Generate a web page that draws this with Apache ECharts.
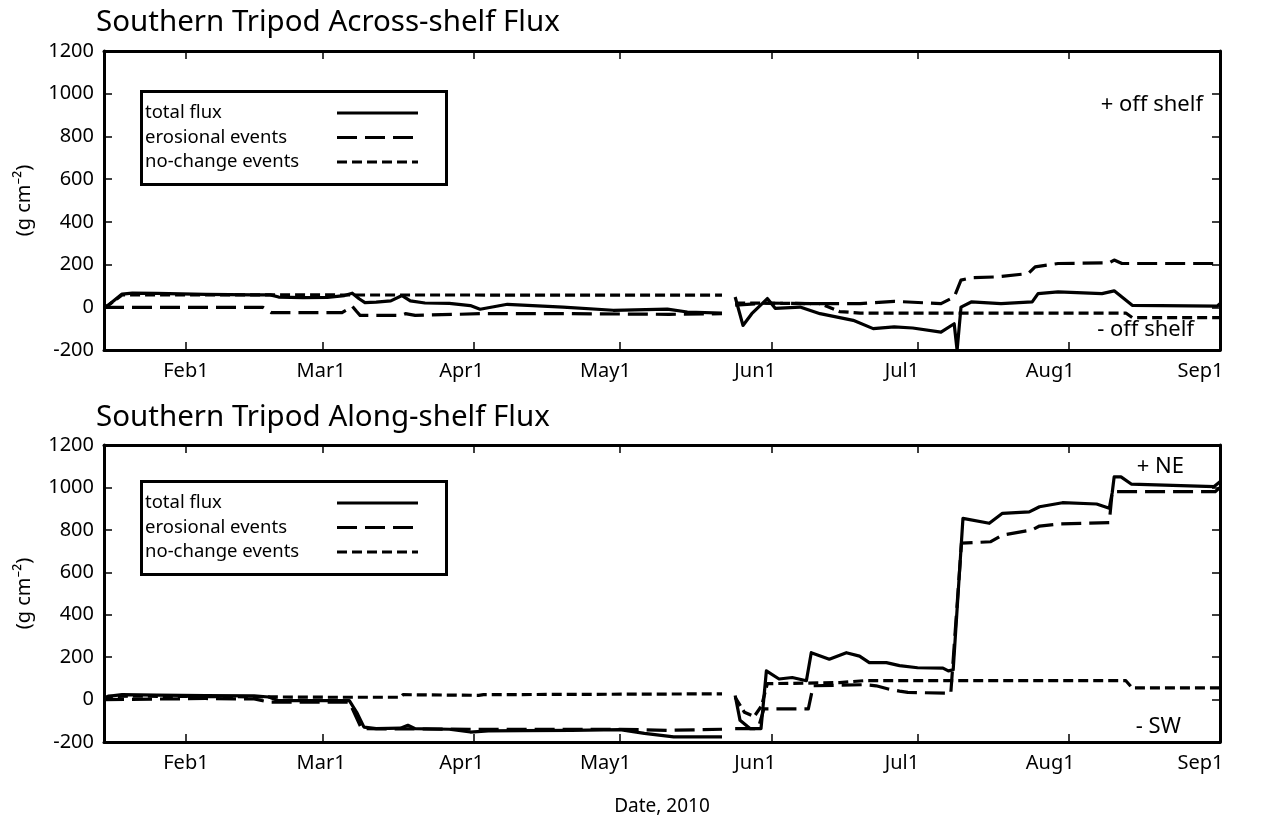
<!DOCTYPE html>
<html><head><meta charset="utf-8">
<script src="https://cdn.jsdelivr.net/npm/echarts@6/dist/echarts.min.js"></script>
<style>html,body{margin:0;padding:0;background:#fff}#c{width:1263px;height:820px}</style>
</head><body><div id="c"></div>
<script>
// x values are day-of-year 2010 (Jan 1 = 0)
const monthTicks = [31, 59, 90, 120, 151, 181, 212, 243];
const monthLabels = ['Feb1', 'Mar1', 'Apr1', 'May1', 'Jun1', 'Jul1', 'Aug1', 'Sep1'];
const labelAt = [31, 58.7, 87.5, 117, 147.7, 177.8, 208.2, 239];
const seriesNames = ['total flux', 'erosional events', 'no-change events'];
const panelTitles = ['Southern Tripod Across-shelf Flux', 'Southern Tripod Along-shelf Flux'];

const acrossTotal = [[14.2,0],[15,8],[17.9,62],[20,66],[25,65],[35,60],[45,58],[48.3,58],[50,48],[55,45],[60,46],[63.5,55],[65.1,66],[66.5,40],[67.7,22],[70,24],[73,30],[75.3,55],[77,30],[80,20],[85,18],[89.3,8],[91.3,-9],[96.9,14],[108.3,1],[118.6,-14],[129.7,-9],[133.8,-22],[140.9,-27],[142,null],[143.6,48],[145.2,-85],[147,-30],[150.2,41],[151.8,-5],[156.9,1],[161,-30],[167.8,-61],[171.9,-100],[176.2,-92],[180,-97],[185.8,-116],[188.5,-77],[189.1,-202],[189.9,1],[192,25],[198.1,17],[204.5,25],[205.7,64],[209.8,72],[218.8,64],[221.3,77],[225,9],[242.4,5],[243,17]];
const acrossErosional = [[14.2,0],[46.8,0],[48.5,-25],[63,-25],[64.5,-5],[65.1,5],[66,-20],[66.7,-38],[75,-38],[76,-30],[78,-38],[91.3,-30],[110,-30],[130,-33],[140.9,-30],[142,null],[143.6,10],[150.2,20],[160,17],[169.2,17],[176.2,28],[185.8,17],[188.5,48],[189.9,127],[192,138],[196.9,142],[203.7,158],[205.1,189],[209.8,205],[220.3,208],[221.3,221],[222.9,205],[243,205]];
const acrossNoChange = [[14.2,0],[15,8],[17.9,58],[140.9,57],[142,null],[143.6,20],[161,17],[165,-20],[169.2,-27],[223.7,-27],[225,-48],[243,-48]];

const alongTotal = [[14.2,5],[15,15],[17.9,23],[25,21],[35,19],[45,17],[48,12],[50,-5],[64.5,-5],[66,-60],[67.5,-130],[70,-137],[75,-135],[76.5,-121],[78,-137],[85,-140],[89.3,-153],[93,-148],[100,-146],[110,-145],[120,-142],[125,-159],[131,-176],[140.9,-176],[142,null],[143.6,19],[144.6,-98],[146.7,-137],[148.9,-137],[150,135],[152.6,97],[155.3,104],[158.2,89],[159.2,221],[162.9,190],[166.4,221],[169.1,205],[171.1,174],[174.6,174],[177.3,160],[181,150],[186.2,148],[187.3,135],[188.3,140],[190.3,854],[195.7,831],[198.4,878],[203.9,885],[206,909],[210.7,928],[217.7,922],[220.3,902],[220.9,975],[221.3,1050],[222.7,1050],[224.8,1016],[241.8,1004],[243,1027]];
const alongErosional = [[14.2,0],[35,5],[45,3],[48,-12],[64.5,-12],[67,-137],[89,-140],[120,-140],[130,-145],[140.9,-140],[142,null],[143.6,-137],[148.3,-137],[149.5,-44],[158.6,-44],[159.6,65],[170,70],[172.5,65],[175,50],[177.3,40],[179,34],[187,30],[187.8,27],[190,737],[196,744],[198.3,775],[204.5,800],[206,818],[210,828],[220.3,834],[220.9,980],[242,980],[243,1000]];
const alongNoChange = [[14.2,0],[15,15],[20,16],[60,11],[75,11],[75.5,23],[91,20],[92,23],[140.9,27],[142,null],[143.6,10],[145.5,-60],[147.5,-80],[149,-30],[150.2,75],[165,80],[170,89],[223.7,89],[225,55],[243,55]];

const FONT = 'Noto Sans';
const dashStyles = ['solid', [20, 8], [10, 5]];
const grids = [{left:104, right:43, top:51, height:299}, {left:104, right:43, top:445, height:297}];

const xAxes = [], yAxes = [];
grids.forEach((g, i) => {
  const tickBase = {show:true, inside:true, length:8, customValues: monthTicks, lineStyle:{color:'#000', width:1.5}};
  xAxes.push({
    type:'value', gridIndex:i, min:14.2, max:243, position:'bottom',
    axisLine:{show:true, onZero:false, lineStyle:{color:'#000', width:3}},
    axisTick: tickBase,
    axisLabel:{show:true, customValues: labelAt, margin:11, color:'#000', fontFamily:FONT, fontSize:20,
      formatter: v => { const k = labelAt.findIndex(a => Math.abs(a - v) < 0.01); return k >= 0 ? monthLabels[k] : ''; }},
    splitLine:{show:false},
    name: i === 1 ? 'Date, 2010' : '', nameLocation:'middle', nameGap:55,
    nameTextStyle:{color:'#000', fontFamily:FONT, fontSize:19}
  });
  xAxes.push({
    type:'value', gridIndex:i, min:14.2, max:243, position:'top',
    axisLine:{show:true, onZero:false, lineStyle:{color:'#000', width:3}},
    axisTick: tickBase, axisLabel:{show:false}, splitLine:{show:false}
  });
  yAxes.push({
    type:'value', gridIndex:i, min:-200, max:1200, interval:200, position:'left',
    axisLine:{show:true, onZero:false, lineStyle:{color:'#000', width:3}},
    axisTick:{show:true, inside:true, length:8, lineStyle:{color:'#000', width:1.5}},
    axisLabel:{color:'#000', fontFamily:FONT, fontSize:20, margin:10, formatter: v => String(v)},
    splitLine:{show:false},
    name:'(g cm\u207B\u00B2)', nameLocation:'middle', nameGap:70, nameRotate:90,
    nameTextStyle:{color:'#000', fontFamily:FONT, fontSize:20}
  });
  yAxes.push({
    type:'value', gridIndex:i, min:-200, max:1200, interval:200, position:'right',
    axisLine:{show:true, onZero:false, lineStyle:{color:'#000', width:3}},
    axisTick:{show:true, inside:true, length:8, lineStyle:{color:'#000', width:1.5}},
    axisLabel:{show:false}, splitLine:{show:false}
  });
});

const panelData = [[acrossTotal, acrossErosional, acrossNoChange], [alongTotal, alongErosional, alongNoChange]];
const series = [];
panelData.forEach((set, p) => {
  set.forEach((d, k) => {
    series.push({
      type:'line', name: seriesNames[k], xAxisIndex: p*2, yAxisIndex: p*2, data: d,
      showSymbol:false, symbol:'none', connectNulls:false, animation:false,
      lineStyle:{color:'#000', width:3.2, type: dashStyles[k], join:'round'}, z: 5 - k
    });
  });
});

const graphic = [];
const legendTop = [90, 480];
legendTop.forEach(t => {
  graphic.push({type:'rect', left:140, top:t, shape:{width:305, height:93}, style:{fill:'#fff', stroke:'#000', lineWidth:3}, z:10});
  seriesNames.forEach((n, k) => {
    const y = t + 23 + k * 24.5;
    graphic.push({type:'text', x:145, y:y, style:{text:n, fill:'#000', font:'18.5px "' + FONT + '"', verticalAlign:'middle'}, z:11});
    graphic.push({type:'line', shape:{x1:337, y1:y, x2:418, y2:y}, style:{stroke:'#000', lineWidth:3, lineDash: k === 0 ? null : dashStyles[k]}, z:11});
  });
});
const notes = [['+ off shelf', 105, 1203], ['- off shelf', 330, 1194], ['+ NE', 467, 1184], ['- SW', 727, 1181]];
notes.forEach(([t, y, x]) => {
  graphic.push({type:'text', x:x, y:y,
    style:{text:t, fill:'#000', font:'22px "' + FONT + '"', align:'right', verticalAlign:'middle'}, z:11});
});

const chart = echarts.init(document.getElementById('c'));
chart.setOption({
  animation:false,
  backgroundColor:'#fff',
  title: panelTitles.map((t, i) => ({text:t, left:96, top: i === 0 ? 8 : 403, padding:0,
    textStyle:{color:'#000', fontFamily:FONT, fontSize:29.5, fontWeight:'normal'}})),
  grid: grids,
  xAxis: xAxes,
  yAxis: yAxes,
  series: series,
  graphic: graphic
});
</script></body></html>
